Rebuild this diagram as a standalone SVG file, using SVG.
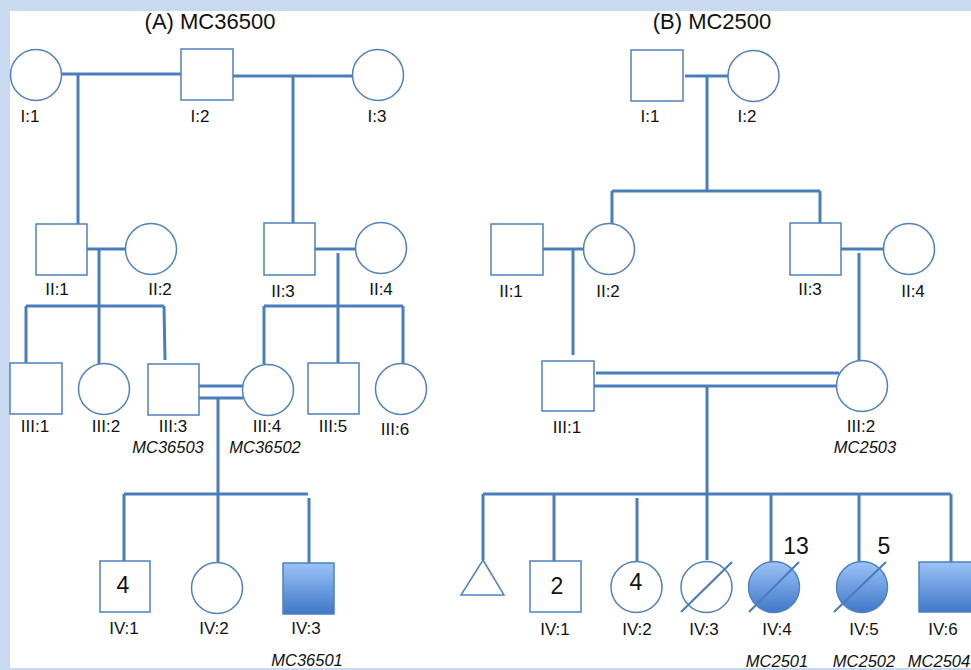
<svg xmlns="http://www.w3.org/2000/svg" width="971" height="670" viewBox="0 0 971 670">
<defs>
<linearGradient id="aff" x1="0" y1="0" x2="0" y2="1">
<stop offset="0" stop-color="#9cc3f8"/>
<stop offset="1" stop-color="#3f78c8"/>
</linearGradient>
<style>
.sh{fill:#fff;stroke:#4f81bd;stroke-width:1.5}
.af{fill:url(#aff);stroke:#4f81bd;stroke-width:1.5}
.ln{fill:none;stroke:#4a7ebb;stroke-width:3}
.sl{stroke:#4a7ebb;stroke-width:2.2}
.lb{font-family:"Liberation Sans",Arial,sans-serif;font-size:17px;fill:#111;text-anchor:middle}
.id{font-family:"Liberation Sans",Arial,sans-serif;font-size:16.5px;font-style:italic;fill:#111;text-anchor:middle}
.tt{font-family:"Liberation Sans",Arial,sans-serif;font-size:22px;fill:#111;text-anchor:middle}
.nm{font-family:"Liberation Sans",Arial,sans-serif;font-size:23px;fill:#111;text-anchor:middle}
</style>
</defs>
<rect x="0" y="0" width="971" height="670" fill="#c9d9ef"/>
<rect x="10" y="11" width="961" height="657" fill="#fff"/>

<text class="tt" x="210" y="29">(A) MC36500</text>
<text class="tt" x="712" y="29">(B) MC2500</text>

<g id="connectors">
<!-- A -->
<path class="ln" d="M62 74H181M78 74V224M233 76H353M293 76V224"/>
<path class="ln" d="M87 249H125M99 249V306M315 249H356M338 253V306"/>
<path class="ln" d="M26 306H164M26 306V363M99 306V364M164 306L165 360M264 306H403M264 306V364M338 306V363M403 306V364"/>
<path class="ln" d="M199 386H243M199 398H243M218 398V494"/>
<path class="ln" d="M124 494H308M124 494V562M218 494V562M309 498V564"/>
<!-- B -->
<path class="ln" d="M685 76H728M707 76V191M612 191H820M612 191V224M820 191V223"/>
<path class="ln" d="M543 249H583M573 249V355M841 249H883M859 253V360"/>
<path class="ln" d="M596 373H839M594 386H837M707 386V494"/>
<path class="ln" d="M483 494H951M483 494V560M554 494V562M637 498V562M707 494V560M771 494V562M859 494V561M951 494V562"/>
</g>

<!-- Pedigree A -->
<g id="A-I1"><circle class="sh" cx="36" cy="75" r="25.5"/><text class="lb" x="30" y="122">I:1</text></g>
<g id="A-I2"><rect class="sh" x="181" y="49" width="52" height="51"/><text class="lb" x="200" y="122">I:2</text></g>
<g id="A-I3"><circle class="sh" cx="378" cy="75" r="25.5"/><text class="lb" x="377" y="122">I:3</text></g>
<g id="A-II1"><rect class="sh" x="36" y="224" width="51" height="51"/><text class="lb" x="57" y="295">II:1</text></g>
<g id="A-II2"><circle class="sh" cx="151" cy="249" r="25.5"/><text class="lb" x="160" y="295">II:2</text></g>
<g id="A-II3"><rect class="sh" x="264" y="223" width="51" height="52"/><text class="lb" x="283" y="297">II:3</text></g>
<g id="A-II4"><circle class="sh" cx="381" cy="248" r="25.5"/><text class="lb" x="381" y="295">II:4</text></g>
<g id="A-III1"><rect class="sh" x="10" y="363" width="52" height="51"/><text class="lb" x="35" y="432">III:1</text></g>
<g id="A-III2"><circle class="sh" cx="104" cy="389" r="25.5"/><text class="lb" x="106" y="432">III:2</text></g>
<g id="A-III3"><rect class="sh" x="148" y="364" width="51" height="51"/><text class="lb" x="173" y="432">III:3</text><text class="id" x="168" y="453">MC36503</text></g>
<g id="A-III4"><circle class="sh" cx="268" cy="390" r="25.5"/><text class="lb" x="267" y="432">III:4</text><text class="id" x="265" y="453">MC36502</text></g>
<g id="A-III5"><rect class="sh" x="308" y="363" width="51" height="51"/><text class="lb" x="333" y="432">III:5</text></g>
<g id="A-III6"><circle class="sh" cx="401" cy="389" r="25.5"/><text class="lb" x="395" y="435">III:6</text></g>
<g id="A-IV1"><rect class="sh" x="100" y="561" width="50" height="51"/><text class="nm" x="123" y="593">4</text><text class="lb" x="124" y="634">IV:1</text></g>
<g id="A-IV2"><circle class="sh" cx="217" cy="588" r="25.5"/><text class="lb" x="214" y="634">IV:2</text></g>
<g id="A-IV3"><rect class="af" x="283" y="563" width="51" height="51"/><text class="lb" x="306" y="634">IV:3</text><text class="id" x="307" y="666">MC36501</text></g>

<!-- Pedigree B -->
<g id="B-I1"><rect class="sh" x="631" y="50" width="52" height="51"/><text class="lb" x="650" y="122">I:1</text></g>
<g id="B-I2"><circle class="sh" cx="753.5" cy="76" r="25.5"/><text class="lb" x="747" y="122">I:2</text></g>
<g id="B-II1"><rect class="sh" x="491" y="224" width="52" height="51"/><text class="lb" x="511" y="297">II:1</text></g>
<g id="B-II2"><circle class="sh" cx="609" cy="249" r="25.5"/><text class="lb" x="608" y="297">II:2</text></g>
<g id="B-II3"><rect class="sh" x="790" y="223" width="51" height="52"/><text class="lb" x="810" y="295">II:3</text></g>
<g id="B-II4"><circle class="sh" cx="909" cy="249" r="25.5"/><text class="lb" x="913" y="297">II:4</text></g>
<g id="B-III1"><rect class="sh" x="542" y="361" width="52" height="50"/><text class="lb" x="567" y="433">III:1</text></g>
<g id="B-III2"><circle class="sh" cx="862" cy="386" r="25.5"/><text class="lb" x="861" y="432">III:2</text><text class="id" x="865" y="453">MC2503</text></g>
<g id="B-IVa"><polygon class="sh" points="483,560 504,595 461,595"/></g>
<g id="B-IV1"><rect class="sh" x="530" y="561" width="51" height="51"/><text class="nm" x="557" y="594">2</text><text class="lb" x="555" y="635">IV:1</text></g>
<g id="B-IV2"><circle class="sh" cx="636.5" cy="587" r="25.5"/><text class="nm" x="636" y="590">4</text><text class="lb" x="637" y="635">IV:2</text></g>
<g id="B-IV3"><circle class="sh" cx="706.5" cy="587" r="25.5"/><line class="sl" x1="681" y1="612" x2="732" y2="562"/><text class="lb" x="704" y="635">IV:3</text></g>
<g id="B-IV4"><circle class="af" cx="774" cy="587" r="25.5"/><line class="sl" x1="749" y1="612" x2="799" y2="562"/><text class="nm" x="796" y="554">13</text><text class="lb" x="777" y="635">IV:4</text><text class="id" x="777" y="667">MC2501</text></g>
<g id="B-IV5"><circle class="af" cx="862" cy="587" r="25.5"/><line class="sl" x1="834" y1="612" x2="886" y2="562"/><text class="nm" x="884" y="554">5</text><text class="lb" x="864" y="635">IV:5</text><text class="id" x="864" y="667">MC2502</text></g>
<g id="B-IV6"><rect class="af" x="919" y="562" width="53" height="50"/><text class="lb" x="943" y="635">IV:6</text><text class="id" x="939" y="667">MC2504</text></g>
</svg>
